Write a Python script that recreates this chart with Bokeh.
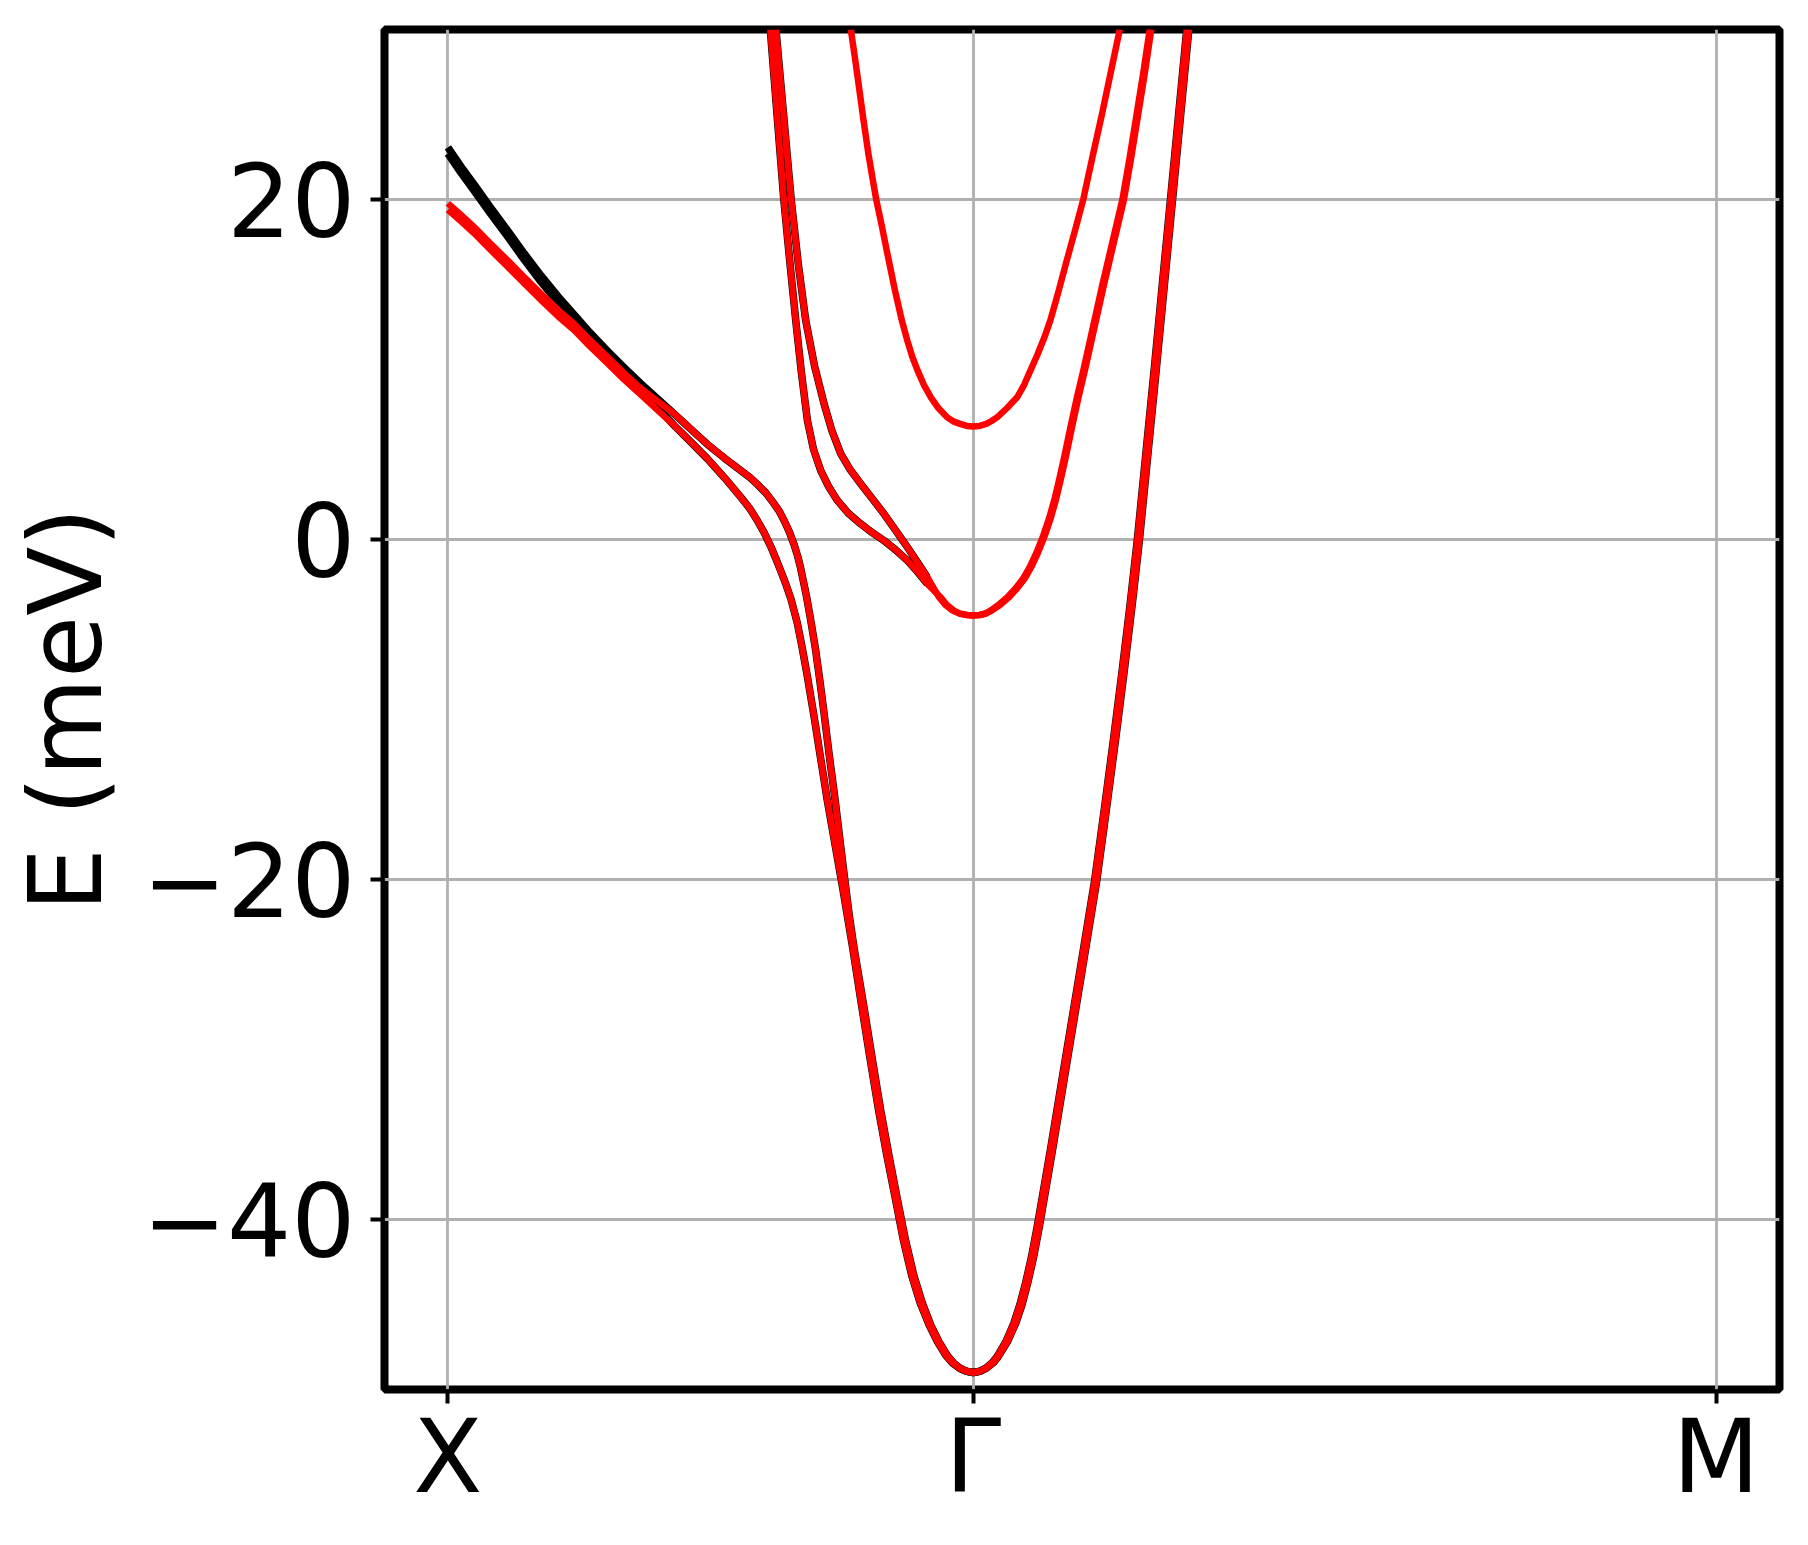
from bokeh.plotting import figure
from bokeh.models import Range1d, FixedTicker
from bokeh.embed import file_html
from bokeh.resources import INLINE

# ---- k-path (X -> Gamma -> M), tick labels ----
k_ticks = [0.0, 1.0, 2.4142]
k_tick_labels = ["X", "Γ", "M"]
E_ticks = [-40, -20, 0, 20]
E_tick_labels = ["−40", "−20", "0", "20"]

# ---- bands near X (black and red strands, same k samples) ----
nearX_k = [0.0, 0.025, 0.05, 0.08, 0.1136, 0.145, 0.177, 0.21, 0.24, 0.27, 0.304, 0.335, 0.367]
black_a_nearX_E = [23.06, 21.93, 20.88, 19.58, 18.18, 16.83, 15.53, 14.28, 13.23, 12.18, 11.08, 10.13, 9.18]
black_b_nearX_E = [22.7, 21.57, 20.52, 19.22, 17.82, 16.47, 15.17, 13.92, 12.87, 11.82, 10.72, 9.77, 8.82]
red_a_nearX_E = [19.77, 19.09, 18.38, 17.44, 16.42, 15.44, 14.46, 13.49, 12.69, 11.74, 10.73, 9.79, 8.89]
red_b_nearX_E = [19.4, 18.72, 18.01, 17.07, 16.05, 15.07, 14.09, 13.12, 12.32, 11.37, 10.36, 9.42, 8.52]

# upper branch of the anticrossing (strand a)
upper_k = [0.4306, 0.462, 0.494, 0.526, 0.5575, 0.575, 0.589, 0.605, 0.621, 0.631, 0.640, 0.650,
           0.659, 0.666, 0.6716, 0.677, 0.683, 0.691, 0.700, 0.708, 0.716, 0.726, 0.737, 0.746,
           0.755, 0.764, 0.773]
upper_E = [7.40, 6.5, 5.6, 4.8, 4.06, 3.65, 3.25, 2.75, 2.10, 1.65, 1.12, 0.45,
           -0.3, -1.0, -1.7, -2.5, -3.4, -4.8, -6.5, -8.3, -10.2, -12.7, -15.3, -17.6,
           -19.9, -22.1, -24.0]
# lower branch of the anticrossing (strand b)
lower_k = [0.4306, 0.462, 0.494, 0.526, 0.5575, 0.574, 0.589, 0.602, 0.6145, 0.624, 0.6336, 0.643,
           0.6526, 0.665, 0.674, 0.684, 0.697, 0.7097, 0.722, 0.735, 0.751, 0.770]
lower_E = [6.71, 5.75, 4.75, 3.65, 2.49, 1.85, 1.12, 0.4, -0.4, -1.1, -1.85, -2.6,
           -3.45, -4.9, -6.3, -8.0, -10.4, -12.9, -15.3, -17.6, -20.4, -23.9]

# deep parabola at Gamma (two nearly degenerate strands)
bottom_a_k = [0.792, 0.808, 0.824, 0.840, 0.8556, 0.871, 0.887, 0.903, 0.919, 0.935,
              0.9507, 0.963, 0.975, 0.988, 1.0, 1.012, 1.025, 1.037, 1.0458, 1.062,
              1.0774, 1.089, 1.10, 1.111, 1.122, 1.147, 1.1726, 1.202, 1.231, 1.249,
              1.2677, 1.284, 1.2995, 1.3125, 1.3285, 1.3445, 1.3755, 1.4065]
bottom_b_k = [0.788, 0.804, 0.820, 0.836, 0.852, 0.867, 0.883, 0.899, 0.916, 0.932,
              0.948, 0.961, 0.974, 0.987, 1.0, 1.013, 1.026, 1.039, 1.048, 1.065,
              1.081, 1.093, 1.104, 1.115, 1.126, 1.151, 1.1766, 1.206, 1.235, 1.253,
              1.2717, 1.288, 1.3035, 1.3165, 1.3325, 1.3485, 1.3795, 1.4105]
bottom_E = [-27.5, -30.6, -33.6, -36.3, -38.8, -41.2, -43.3, -44.9, -46.2, -47.2,
            -48.0, -48.45, -48.75, -48.93, -49.0, -48.93, -48.73, -48.4, -48.05, -47.2,
            -46.1, -45.0, -43.7, -42.2, -40.4, -35.9, -31.1, -25.6, -20.1, -16.0,
            -11.6, -7.6, -3.6, 0.0, 5.0, 10.0, 20.0, 30.0]

# middle band: two strands from the top down to their merge, then common parabola
mid_outer_k = [0.6137, 0.6265, 0.6394, 0.651, 0.6621, 0.673, 0.6844, 0.696, 0.7097, 0.725,
               0.7414, 0.762, 0.7858, 0.808, 0.8301, 0.852, 0.8746, 0.894, 0.9127]
mid_outer_E = [30.0, 25.0, 20.0, 16.3, 12.9, 9.8, 7.0, 5.3, 4.06, 3.1,
               2.3, 1.55, 0.92, 0.4, -0.06, -0.6, -1.24, -1.9, -2.61]
mid_inner_k = [0.6245, 0.639, 0.6535, 0.667, 0.6811, 0.698, 0.716, 0.731, 0.7477, 0.766,
               0.7858, 0.808, 0.8301, 0.852, 0.8746, 0.894, 0.9127]
mid_inner_E = [30.0, 25.0, 20.0, 16.2, 12.9, 10.2, 7.99, 6.4, 5.05, 4.1,
               3.28, 2.4, 1.51, 0.55, -0.45, -1.35, -2.22]
mid_common_a_k = [0.938, 0.950, 0.963, 0.975, 0.988, 1.0, 1.012, 1.022, 1.033, 1.048,
                  1.065, 1.080, 1.095, 1.108, 1.12, 1.133, 1.145, 1.155, 1.165, 1.175,
                  1.185, 1.197, 1.21, 1.228, 1.246, 1.265, 1.284, 1.298, 1.311, 1.324, 1.336]
mid_common_b_k = [0.935, 0.947, 0.961, 0.974, 0.988, 1.0, 1.012, 1.023, 1.035, 1.051,
                  1.068, 1.083, 1.098, 1.111, 1.123, 1.136, 1.148, 1.158, 1.168, 1.178,
                  1.188, 1.200, 1.213, 1.231, 1.249, 1.268, 1.287, 1.301, 1.314, 1.327, 1.339]
mid_common_E = [-3.4, -3.85, -4.18, -4.36, -4.44, -4.47, -4.44, -4.37, -4.18, -3.85,
                -3.4, -2.9, -2.3, -1.6, -0.8, 0.2, 1.3, 2.4, 3.7, 5.1,
                6.6, 8.3, 10.0, 12.5, 15.0, 17.5, 20.0, 22.5, 25.0, 27.5, 30.0]

# upper parabola at Gamma
top_k = [0.767, 0.775, 0.7825, 0.791, 0.8004, 0.808, 0.8156, 0.826, 0.8366, 0.850,
         0.864, 0.8746, 0.884, 0.894, 0.906, 0.919, 0.934, 0.950, 0.962, 0.975,
         0.988, 1.0, 1.012, 1.025, 1.035, 1.046, 1.065, 1.084, 1.097, 1.109,
         1.122, 1.135, 1.147, 1.162, 1.178, 1.194, 1.2095, 1.227, 1.245, 1.262, 1.279]
top_E = [30.0, 28.3, 26.63, 24.7, 22.71, 21.3, 19.96, 18.45, 16.82, 14.8,
         12.9, 11.7, 10.75, 9.95, 9.1, 8.38, 7.72, 7.2, 6.95, 6.8,
         6.68, 6.65, 6.68, 6.8, 6.97, 7.2, 7.75, 8.38, 9.1, 9.95,
         10.85, 11.85, 12.9, 14.55, 16.4, 18.2, 20.0, 22.5, 25.0, 27.5, 30.0]

RED = "#ff0000"
BLACK = "#000000"
FONT = "DejaVu Sans"

p = figure(output_backend="svg", toolbar_location=None,
           x_range=Range1d(-0.05 * k_ticks[-1], 1.05 * k_ticks[-1]),
           y_range=Range1d(-50, 30),
           frame_width=1395, frame_height=1360,
           min_border_left=384, min_border_top=29, min_border_right=17, min_border_bottom=140)

p.background_fill_color = "white"
p.border_fill_color = "white"
p.outline_line_color = "black"
p.outline_line_width = 8
p.outline_line_alpha = 1.0

# black strands (drawn first)
black_lines = [
    (nearX_k + upper_k + bottom_a_k, black_a_nearX_E + upper_E + bottom_E),
    (nearX_k + lower_k + bottom_b_k, black_b_nearX_E + lower_E + bottom_E),
    (mid_outer_k, mid_outer_E),
    (mid_inner_k, mid_inner_E),
]
for xs, ys in black_lines:
    p.line(xs, ys, line_color=BLACK, line_width=7.5, line_join="round")

# red strands on top
red_lines = [
    (nearX_k + upper_k + bottom_a_k, red_a_nearX_E + upper_E + bottom_E),
    (nearX_k + lower_k + bottom_b_k, red_b_nearX_E + lower_E + bottom_E),
    (mid_outer_k + mid_common_a_k, mid_outer_E + mid_common_E),
    (mid_inner_k + mid_common_b_k, mid_inner_E + mid_common_E),
    (top_k, top_E),
]
for xs, ys in red_lines:
    p.line(xs, ys, line_color=RED, line_width=6.5, line_join="round")

for ax in (p.xaxis[0], p.yaxis[0]):
    ax.axis_line_color = None
    ax.major_tick_line_color = "black"
    ax.major_tick_line_width = 4
    ax.major_tick_out = 14
    ax.major_tick_in = 0
    ax.minor_tick_line_color = None
    ax.major_label_text_font = FONT
    ax.major_label_text_font_size = "101px"
    ax.major_label_text_color = "black"

p.xaxis.ticker = FixedTicker(ticks=k_ticks)
p.xaxis.major_label_overrides = {k: lab for k, lab in zip(k_ticks, k_tick_labels)}
p.xaxis.major_label_standoff = -6

p.yaxis.ticker = FixedTicker(ticks=E_ticks)
p.yaxis.major_label_overrides = {e: lab for e, lab in zip(E_ticks, E_tick_labels)}
p.yaxis.major_label_standoff = 15
p.yaxis.axis_label = "E (meV)"
p.yaxis.axis_label_text_font = FONT
p.yaxis.axis_label_text_font_size = "101px"
p.yaxis.axis_label_text_font_style = "normal"
p.yaxis.axis_label_text_color = "black"
p.yaxis.axis_label_standoff = 14

p.xgrid.ticker = FixedTicker(ticks=k_ticks)
p.ygrid.ticker = FixedTicker(ticks=E_ticks)
for g in (p.xgrid[0], p.ygrid[0]):
    g.grid_line_color = "#b0b0b0"
    g.grid_line_width = 2.8

open("out.html", "w").write(file_html(p, INLINE))
